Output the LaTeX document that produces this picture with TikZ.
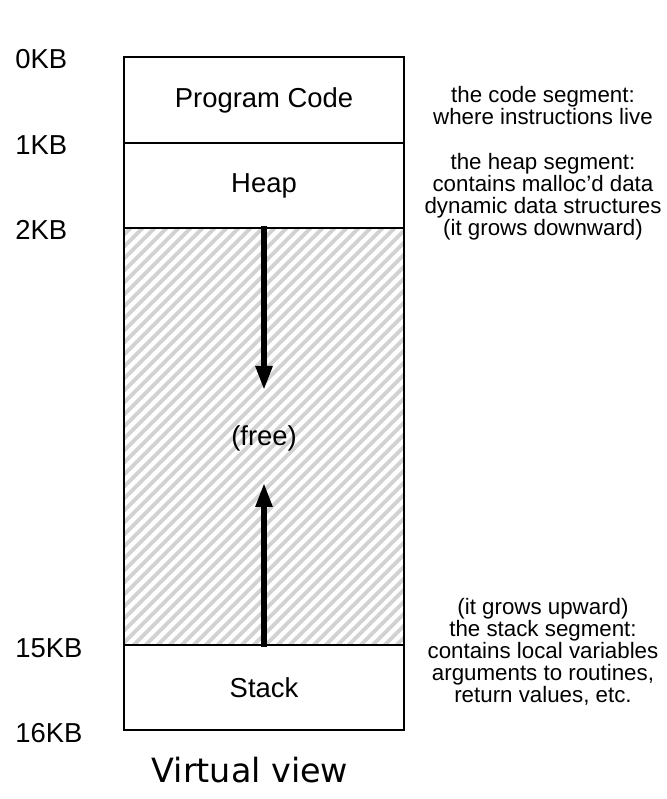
\documentclass[tikz,border=0pt]{standalone}
\usepackage{fontspec}
\setmainfont{Liberation Sans}
\newfontfamily\captionfont{DejaVu Sans}
\usetikzlibrary{arrows.meta}
\usetikzlibrary{patterns.meta}
\colorlet{hatchColor}{gray!35}
\colorlet{borderColor}{black}
\tikzset{
  segment/.style={shape=rectangle, draw=borderColor, line width=0.8pt, minimum width=5.6cm, inner sep=0pt, font=\fontsize{15.6}{18}\selectfont},
  kbLabel/.style={anchor=west, inner sep=0pt, font=\fontsize{15.6}{18}\selectfont},
  segNote/.style={align=center, inner sep=0pt, font=\fontsize{12.7}{12.5}\selectfont},
  growArrow/.style={line width=3.1pt, -{Triangle[width=0.32cm, length=0.48cm]}}
}

\begin{document}
\begin{tikzpicture}
	\useasboundingbox (0, 0) rectangle (13.34, 15.98);

	% --- Segmente des Adressraums ---
	\node[segment, minimum height=1.72cm] (codeSeg) at (5.28, 13.98) {Program Code};
	\node[segment, minimum height=1.70cm] (heapSeg) at (5.28, 12.27) {Heap};
	\node[segment, minimum height=8.34cm, pattern={Lines[angle=45, distance=0.18cm, line width=0.085cm]}, pattern color=hatchColor] (freeSeg) at (5.28, 7.25) {};
	\node[segment, minimum height=1.70cm] (stackSeg) at (5.28, 2.23) {Stack};
	\node[inner sep=0pt, font=\fontsize{15.6}{18}\selectfont] (freeText) at (5.28, 7.22) {(free)};

	% --- Wachstumsrichtung (dicke Pfeile) ---
	\coordinate (heapTip) at (5.28, 8.18);
	\coordinate (stackTip) at (5.28, 6.32);
	\draw[growArrow] (freeSeg.north) -- (heapTip);
	\draw[growArrow] (freeSeg.south) -- (stackTip);

	% --- Adressen links ---
	\node[kbLabel] (kb0) at (0.3, 14.80) {0KB};
	\node[kbLabel] (kb1) at (0.3, 13.08) {1KB};
	\node[kbLabel] (kb2) at (0.3, 11.38) {2KB};
	\node[kbLabel] (kb15) at (0.3, 3.02) {15KB};
	\node[kbLabel] (kb16) at (0.3, 1.32) {16KB};

	% --- Erklaerungen rechts ---
	\node[segNote] (codeNote) at (10.86, 13.86) {the code segment:\\where instructions live};
	\node[segNote] (heapNote) at (10.86, 12.04) {the heap segment:\\contains malloc'd data\\dynamic data structures\\(it grows downward)};
	\node[segNote] (stackNote) at (10.86, 2.94) {(it grows upward)\\the stack segment:\\contains local variables\\arguments to routines,\\return values, etc.};

	% --- Bildunterschrift ---
	\node[inner sep=0pt, font=\captionfont\fontsize{19}{22}\selectfont] (viewCaption) at (5.0, 0.58) {Virtual view};

\end{tikzpicture}
\end{document}
